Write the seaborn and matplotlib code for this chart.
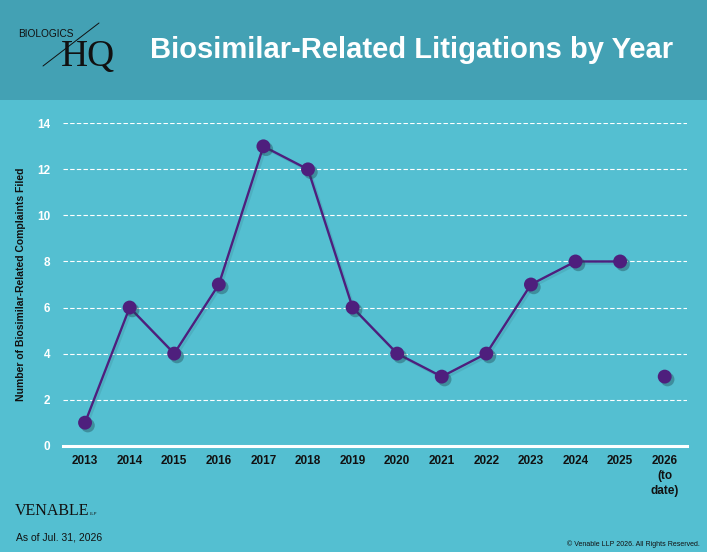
import matplotlib
matplotlib.use("Agg")
import matplotlib.pyplot as plt
import matplotlib.patheffects as pe
from matplotlib.patches import Rectangle
from matplotlib.lines import Line2D
import seaborn as sns
import pandas as pd

# --- data ---
years = ["2013", "2014", "2015", "2016", "2017", "2018", "2019",
         "2020", "2021", "2022", "2023", "2024", "2025", "2026\n(to\ndate)"]
complaints = [1, 6, 4, 7, 13, 12, 6, 4, 3, 4, 7, 8, 8, 3]
# the last year (to date) is drawn as a lone point, not joined to the line
n_joined = 13

bg_color = "#54BFD1"
header_color = "#43A1B4"
purple = "#4E1F7D"

df = pd.DataFrame({"pos": range(len(years)), "count": complaints})

sns.set_style("white")
plt.rcParams["font.family"] = ["Liberation Sans", "DejaVu Sans"]

fig = plt.figure(figsize=(7.07, 5.52), dpi=100)
fig.patch.set_facecolor(bg_color)

# header band
fig.add_artist(Rectangle((0, 1 - 100 / 552), 1, 100 / 552, transform=fig.transFigure,
                         facecolor=header_color, edgecolor="none", zorder=0))
fig.text(412 / 707, 1 - 50 / 552, "Biosimilar-Related Litigations by Year", color="white",
         fontsize=21, fontweight="bold", ha="center", va="center")

# logo-ish text
fig.text(18 / 707, 1 - 34 / 552, "BIOLOGICS", fontsize=7.3, color="#111111",
         ha="left", va="center")
fig.text(61 / 707, 1 - 57 / 552, "HQ", fontsize=27, color="#111111",
         family=["Liberation Serif", "DejaVu Serif"], ha="left", va="center")
fig.add_artist(Line2D([43 / 707, 99 / 707], [1 - 66 / 552, 1 - 23 / 552],
                      transform=fig.transFigure, color="#111111", lw=0.7))

ax = fig.add_axes([62.75 / 707, 1 - 445.7 / 552, (687 - 62.75) / 707, (445.7 - 123.3) / 552])
ax.set_facecolor(bg_color)

line_shadow = [pe.SimpleLineShadow(offset=(1.5, -1.5), shadow_color="#1d4550", alpha=0.12),
               pe.Normal()]
dot_shadow = [pe.SimplePatchShadow(offset=(2, -2), shadow_rgbFace="#1d4550", alpha=0.4),
              pe.Normal()]

sns.lineplot(data=df.iloc[:n_joined], x="pos", y="count", color=purple, lw=1.7,
             ax=ax, zorder=3, path_effects=line_shadow)
sns.scatterplot(data=df, x="pos", y="count", color=purple, s=100, edgecolor="none",
                ax=ax, zorder=4, path_effects=dot_shadow)

ax.set_xlim(-0.5, len(years) - 0.5)
ax.set_ylim(0, 14)
ax.set_yticks(range(0, 15, 2))
ax.set_xticks(range(len(years)))
ax.set_xticklabels(years, fontsize=8.5, fontweight="bold", color="#111111", linespacing=1.3)
ax.set_yticklabels([str(v) for v in range(0, 15, 2)], fontsize=8.5, fontweight="bold",
                   color="white")
ax.tick_params(axis="both", length=0)
ax.tick_params(axis="x", pad=7)
ax.tick_params(axis="y", pad=9)

ax.grid(axis="y", color="white", linestyle=(0, (4, 2)), lw=0.8)
ax.grid(axis="x", visible=False)
for side in ["top", "right", "left"]:
    ax.spines[side].set_visible(False)
ax.spines["bottom"].set_color("white")
ax.spines["bottom"].set_linewidth(2.2)
ax.spines["bottom"].set_zorder(5)

ax.set_xlabel("")
ax.set_ylabel("Number of Biosimilar-Related Complaints Filed", fontsize=7.5,
              fontweight="bold", color="#111111")
ax.yaxis.set_label_coords(-37 / (687 - 62.75), 0.5)

# footer
fig.text(15 / 707, 1 - 511 / 552, "VENABLE", fontsize=11.5, color="#111111",
         family=["Liberation Serif", "DejaVu Serif"], ha="left", va="center")
fig.text(90 / 707, 1 - 514 / 552, "LLP", fontsize=3, color="#111111", ha="left", va="center")
fig.text(16 / 707, 1 - 537 / 552, "As of Jul. 31, 2026", fontsize=7.5, color="#111111",
         ha="left", va="center")
fig.text(700 / 707, 1 - 544 / 552, "\u00a9 Venable LLP 2026. All Rights Reserved.",
         fontsize=5, color="#111111", ha="right", va="center")

fig.savefig("out.png", dpi=100, facecolor=fig.get_facecolor())
